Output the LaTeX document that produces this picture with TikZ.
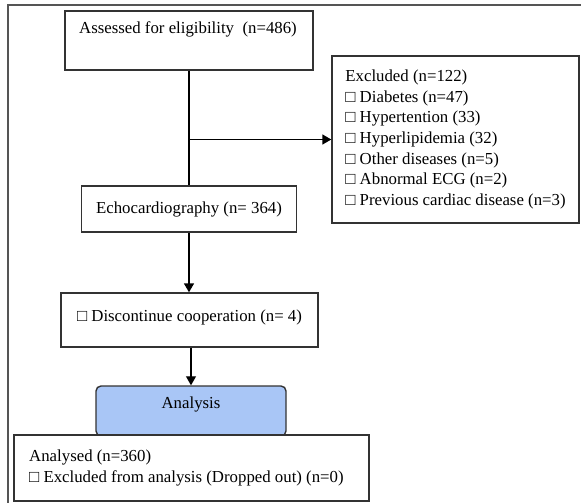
\documentclass[tikz,border=0pt]{standalone}
\usepackage{fontspec}
\setmainfont{Liberation Serif}
\usetikzlibrary{arrows.meta}
\definecolor{boxline}{HTML}{333333}
\definecolor{frameline}{HTML}{555555}
\definecolor{anafill}{HTML}{A9C6F6}
\tikzset{
  box/.style={draw=boxline, line width=1.4pt, fill=white, inner sep=0pt},
  txt/.style={inner sep=0pt, font=\fontsize{16.8}{20.7}\selectfont},
  arr/.style={draw=black, line width=1.5pt, -{Triangle[length=9pt,width=10pt]}},
  ln/.style={draw=black, line width=1.5pt},
}
\newcommand{\sq}{□}
\begin{document}
\begin{tikzpicture}[x=1pt,y=-1pt]
\useasboundingbox (0,0) rectangle (581,503);
% outer frame
\draw[frameline, line width=1.4pt] (581,5) -- (8,5) -- (8,503);
% boxes
\node[box, minimum width=248pt, minimum height=59pt] (assess) at (189,40.5) {};
\node[txt] (assesst) at (188,29) {Assessed for eligibility\ \ (n=486)};
\node[box, minimum width=247pt, minimum height=167pt, align=left, txt, draw=boxline, line width=1.4pt]
  (excl) at (455.5,139.5) {Excluded (n=122)\\ \sq{} Diabetes (n=47)\\ \sq{} Hypertention (33)\\ \sq{} Hyperlipidemia (32)\\ \sq{} Other diseases (n=5)\\ \sq{} Abnormal ECG (n=2)\\ \sq{} Previous cardiac disease (n=3)};
\node[box, txt, draw=boxline, line width=1.4pt, minimum width=215pt, minimum height=46pt] (echo) at (189,209) {Echocardiography (n= 364)};
\node[box, minimum width=257pt, minimum height=54pt] (disc) at (189.5,320) {};
\node[txt] (disct) at (189.5,317) {\sq{} Discontinue cooperation (n= 4)};
\node[box, fill=anafill, rounded corners=5pt, minimum width=190pt, minimum height=50pt] (ana) at (191,411) {};
\node[txt] (anat) at (191,404) {Analysis};
\node[box, minimum width=355pt, minimum height=66pt] (analysed) at (191.5,468) {};
\node[txt, anchor=west, align=left] (analysedt) at (29,468) {Analysed (n=360)\\ \sq{} Excluded from analysis (Dropped out) (n=0)};
% connectors
\draw[ln] (assess.south) -- (echo.north);
\draw[arr] (excl.west -| assess.south) -- (excl.west);
\draw[arr] (echo.south) -- (disc.north -| echo.south);
\draw[arr, line width=1.1pt] (disc.south -| ana.north) -- (ana.north);
\end{tikzpicture}
\end{document}
